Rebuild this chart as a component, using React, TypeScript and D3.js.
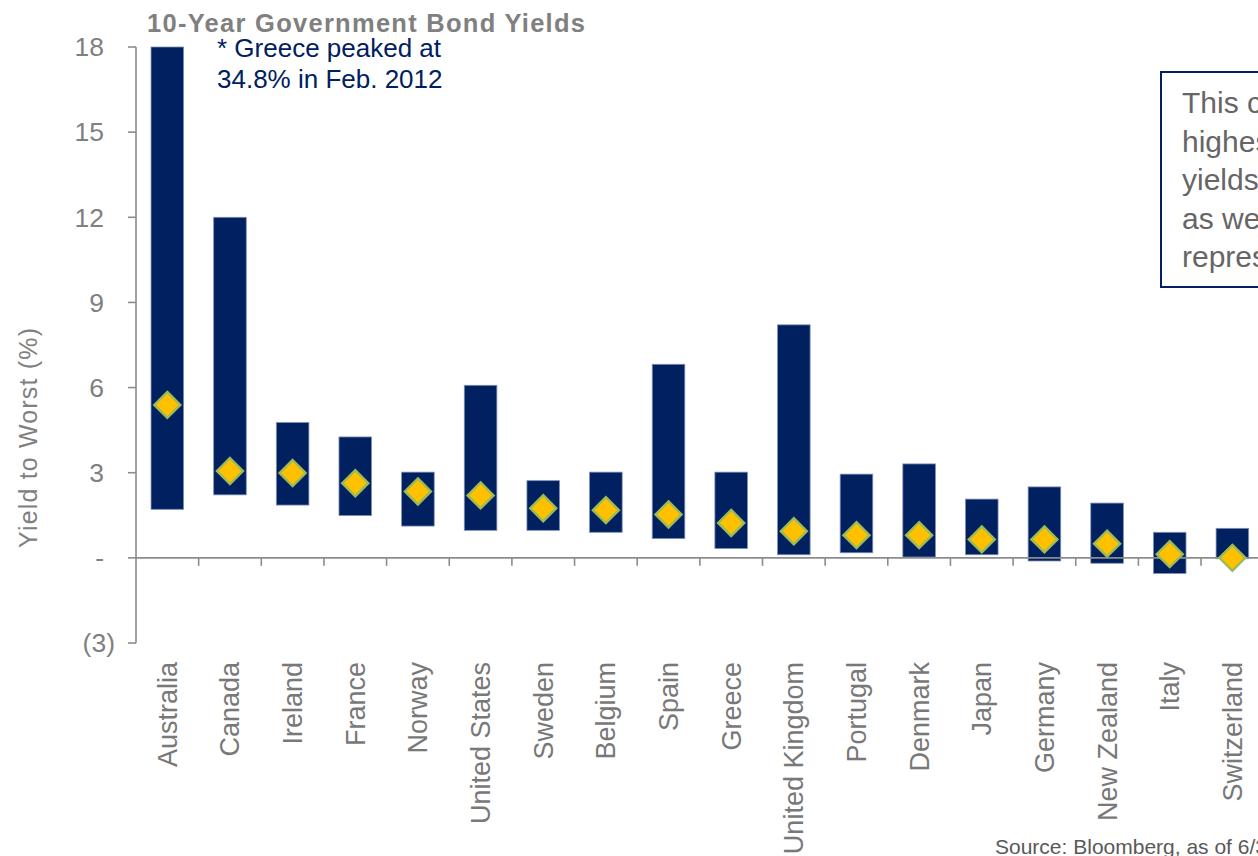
import React from "react";
import * as d3 from "d3";

const countries = [
  "Australia", "Canada", "Ireland", "France", "Norway", "United States",
  "Sweden", "Belgium", "Spain", "Greece", "United Kingdom", "Portugal",
  "Denmark", "Japan", "Germany", "New Zealand", "Italy", "Switzerland",
];
const highYield = [18.0, 12.0, 4.77, 4.26, 3.02, 6.08, 2.72, 3.02, 6.82, 3.02, 8.21, 2.95, 3.31, 2.07, 2.5, 1.93, 0.9, 1.04];
const lowYield = [1.71, 2.22, 1.86, 1.49, 1.12, 0.97, 0.97, 0.9, 0.68, 0.33, 0.11, 0.18, 0.03, 0.11, -0.11, -0.19, -0.55, -0.03];
const currentYield = [5.39, 3.06, 2.99, 2.63, 2.34, 2.2, 1.75, 1.68, 1.53, 1.23, 0.94, 0.8, 0.8, 0.65, 0.65, 0.5, 0.13, 0.0];

const yTicks = [18, 15, 12, 9, 6, 3, 0, -3];
const yTickLabels = ["18", "15", "12", "9", "6", "3", "-", "(3)"];

const titleText = "10-Year Government Bond Yields";
const noteLines = ["* Greece peaked at", "34.8% in Feb. 2012"];
const boxLines = [
  "This chart shows the",
  "highest and lowest",
  "yields over the period,",
  "as well as current yields",
  "represented by the diamonds.",
];
const sourceText = "Source: Bloomberg, as of 6/30/2015";
const yAxisTitle = "Yield to Worst (%)";

const W = 1258;
const H = 856;
const FONT = "'Liberation Sans', Arial, sans-serif";
const GRAY = "#808080";
const NAVY = "#002060";

export default function App() {
  const x0 = 136;
  const step = 62.65;
  const x = d3
    .scaleBand<string>()
    .domain(countries)
    .range([x0, x0 + step * countries.length])
    .paddingInner(0.48)
    .paddingOuter(0.24);
  const y = d3.scaleLinear().domain([-3, 18]).range([643, 47]);
  const bw = x.bandwidth();
  const boundaries = countries.map((_, i) => x0 + step * (i + 1));
  const d = 13;

  return (
    <div style={{ position: "absolute", left: 0, top: 0, width: W, height: H, overflow: "hidden" }}>
      <svg width={W} height={H} style={{ display: "block", background: "#fff" }} fontFamily={FONT}>
        {/* title */}
        <text x={147} y={32} fontSize={25.5} fontWeight="bold" fill={GRAY} textLength={438} lengthAdjust="spacing">
          {titleText}
        </text>
        {/* note */}
        {noteLines.map((t, i) => (
          <text key={t} x={217} y={57 + i * 31} fontSize={26} fill={NAVY}>
            {t}
          </text>
        ))}

        {/* bars */}
        {countries.map((c, i) => (
          <rect
            key={c}
            x={x(c)}
            y={y(highYield[i])}
            width={bw}
            height={y(lowYield[i]) - y(highYield[i])}
            fill={NAVY}
            stroke="#7d8fb8"
            strokeWidth={0.8}
          />
        ))}

        {/* y axis */}
        <line x1={x0} x2={x0} y1={y(18)} y2={y(-3)} stroke="#8c8c8c" strokeWidth={1.6} />
        {yTicks.map((t, i) => (
          <g key={t}>
            <line x1={x0 - 8} x2={x0} y1={y(t)} y2={y(t)} stroke="#8c8c8c" strokeWidth={1.6} />
            <text
              x={104}
              dx={t < 0 ? 11 : 0}
              y={y(t)}
              dy="0.35em"
              textAnchor="end"
              fontSize={26.5}
              fill={GRAY}
            >
              {yTickLabels[i]}
            </text>
          </g>
        ))}

        {/* x axis at zero */}
        <line x1={x0} x2={W + 20} y1={y(0)} y2={y(0)} stroke="#8c8c8c" strokeWidth={1.6} />
        {boundaries.map((bx, i) => (
          <line key={i} x1={bx} x2={bx} y1={y(0)} y2={y(0) + 8} stroke="#8c8c8c" strokeWidth={1.6} />
        ))}

        {/* diamonds */}
        {countries.map((c, i) => {
          const cx = (x(c) as number) + bw / 2;
          const cy = y(currentYield[i]);
          return (
            <path
              key={c}
              d={`M${cx},${cy - d} L${cx + d},${cy} L${cx},${cy + d} L${cx - d},${cy} Z`}
              fill="#FFC000"
              stroke="#9BBB59"
              strokeWidth={2.4}
            />
          );
        })}

        {/* x labels */}
        {countries.map((c) => {
          const cx = (x(c) as number) + bw / 2;
          return (
            <text
              key={c}
              transform={`translate(${cx},662) rotate(-90)`}
              textAnchor="end"
              dy="0.35em"
              fontSize={27}
              fill="#787878"
            >
              {c}
            </text>
          );
        })}

        {/* y axis title */}
        <text
          transform={`translate(28,438) rotate(-90)`}
          textAnchor="middle"
          dy="0.35em"
          fontSize={25}
          fill={GRAY}
          textLength={220}
          lengthAdjust="spacing"
        >
          {yAxisTitle}
        </text>

        {/* text box */}
        <rect x={1161} y={72} width={300} height={215} fill="#fff" stroke={NAVY} strokeWidth={2} />
        {boxLines.map((t, i) => (
          <text key={t} x={1182} y={113 + i * 38.5} fontSize={30} fill="#666666">
            {t}
          </text>
        ))}

        {/* source */}
        <text x={995} y={854} fontSize={21} fill="#595959">
          {sourceText}
        </text>
      </svg>
    </div>
  );
}
